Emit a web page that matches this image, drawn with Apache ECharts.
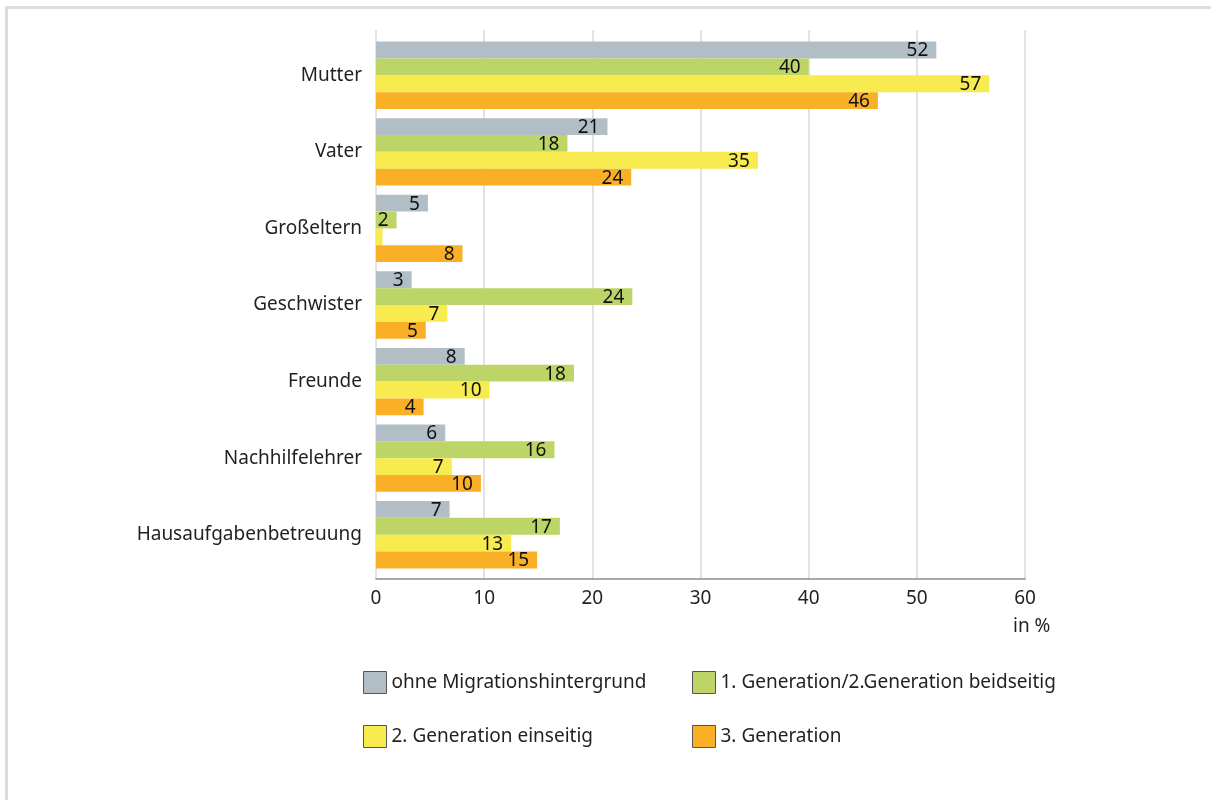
<!DOCTYPE html>
<html>
<head>
<meta charset="utf-8">
<script src="https://cdn.jsdelivr.net/npm/echarts@6/dist/echarts.min.js"></script>
<style>
  html, body { margin: 0; padding: 0; background: #fff; }
  #frame { position: absolute; left: 5px; top: 6px; width: 1206px; height: 794px;
           border-top: 3px solid #dcdcdc; border-left: 3px solid #dcdcdc; box-sizing: border-box; }
  #chart { position: absolute; left: 0; top: 0; width: 1211px; height: 800px; }
</style>
</head>
<body>
<div id="frame"></div>
<div id="chart"></div>
<script>
const categories = ['Mutter', 'Vater', 'Großeltern', 'Geschwister', 'Freunde', 'Nachhilfelehrer', 'Hausaufgabenbetreuung'];
const seriesNames = ['ohne Migrationshintergrund', '1. Generation/2.Generation beidseitig', '2. Generation einseitig', '3. Generation'];
const ohneValues   = [51.8, 21.4, 4.8, 3.3, 8.2, 6.4, 6.8];
const ohneLabels   = [52, 21, 5, 3, 8, 6, 7];
const gen1Values   = [40.0, 17.7, 1.9, 23.7, 18.3, 16.5, 17.0];
const gen1Labels   = [40, 18, 2, 24, 18, 16, 17];
const gen2Values   = [56.7, 35.3, 0.6, 6.6, 10.5, 7.0, 12.5];
const gen2Labels   = [57, 35, null, 7, 10, 7, 13];
const gen3Values   = [46.4, 23.6, 8.0, 4.6, 4.4, 9.7, 14.9];
const gen3Labels   = [46, 24, 8, 5, 4, 10, 15];
const xTicks = [0, 10, 20, 30, 40, 50, 60];
const axisUnit = 'in %';

const colors = ['#b1bec6', '#bcd566', '#f7eb50', '#f9b027'];
const FONT = 'Noto Sans';
const TXT = '#231f20';
const FS = 19;

const valueSets = [ohneValues, gen1Values, gen2Values, gen3Values];
const labelSets = [ohneLabels, gen1Labels, gen2Labels, gen3Labels];

const chart = echarts.init(document.getElementById('chart'), null, { renderer: 'canvas' });

const series = seriesNames.map((name, i) => ({
  name: name,
  type: 'bar',
  xAxisIndex: 0,
  yAxisIndex: 0,
  barGap: '0%',
  barCategoryGap: '12%',
  itemStyle: { color: colors[i] },
  data: valueSets[i],
  label: {
    show: true,
    position: 'insideRight',
    distance: 8,
    offset: [0, 1],
    fontFamily: FONT,
    fontSize: FS,
    color: '#111',
    formatter: p => (labelSets[i][p.dataIndex] == null ? '' : String(labelSets[i][p.dataIndex]))
  },
  emphasis: { disabled: true },
  animation: false
}));

const legendCommon = {
  orient: 'vertical',
  padding: 0,
  itemWidth: 23,
  itemHeight: 22,
  itemGap: 31,
  icon: 'rect',
  textStyle: { fontFamily: FONT, fontSize: FS, color: TXT },
  itemStyle: { borderColor: '#555', borderWidth: 1 },
  selectedMode: false
};

chart.setOption({
  animation: false,
  color: colors,
  legend: [
    Object.assign({}, legendCommon, { left: 363, top: 671, data: [seriesNames[0], seriesNames[2]] }),
    Object.assign({}, legendCommon, { left: 692, top: 671, data: [seriesNames[1], seriesNames[3]] })
  ],
  grid: [
    { left: 376, right: 186, top: 37, bottom: 227, containLabel: false },
    { left: 376, right: 186, top: 30, bottom: 221, containLabel: false }
  ],
  xAxis: [
    { type: 'value', gridIndex: 0, min: 0, max: 60, interval: 10, show: false },
    {
      type: 'value', gridIndex: 1, min: 0, max: 60, interval: 10,
      axisLine: { show: true, lineStyle: { color: '#8c8c8c', width: 1.5 } },
      axisTick: { show: false },
      axisLabel: { fontFamily: FONT, fontSize: FS, color: TXT, margin: 10,
                   formatter: v => (xTicks.indexOf(v) >= 0 ? String(v) : '') },
      splitLine: { show: true, lineStyle: { color: '#d9d9d9', width: 1.5 } },
      name: axisUnit,
      nameLocation: 'end',
      nameGap: -12,
      nameTextStyle: { fontFamily: FONT, fontSize: FS, color: TXT, verticalAlign: 'top', align: 'left', padding: [38, 0, 0, 0] }
    }
  ],
  yAxis: [
    {
      type: 'category', gridIndex: 0, inverse: true, data: categories,
      axisLine: { show: false }, axisTick: { show: false },
      axisLabel: { fontFamily: FONT, fontSize: FS, color: TXT, margin: 14 },
      splitLine: { show: false }
    },
    { type: 'value', gridIndex: 1, show: false, min: 0, max: 1 }
  ],
  series: series
});
</script>
</body>
</html>
